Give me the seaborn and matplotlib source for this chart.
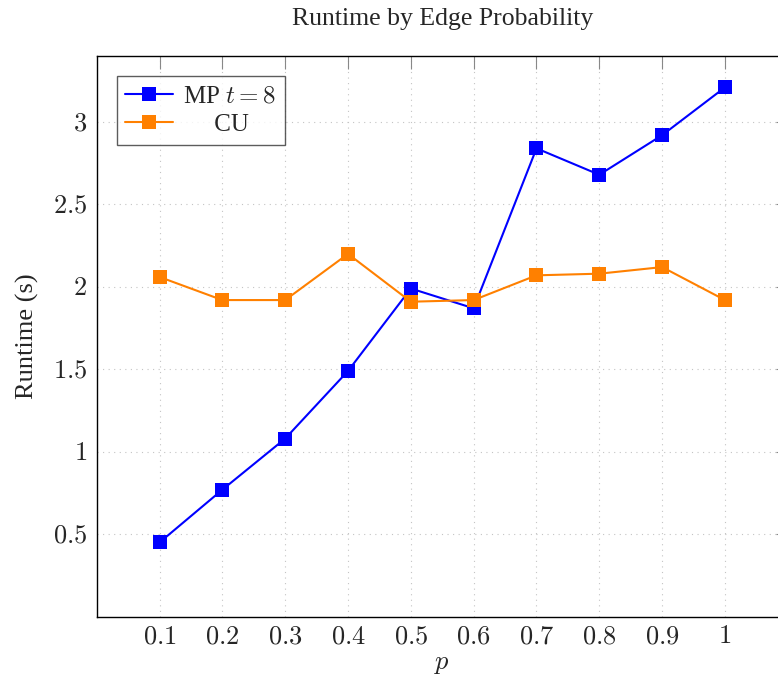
import numpy as np
import pandas as pd
import matplotlib
matplotlib.use("Agg")
import matplotlib.pyplot as plt
import seaborn as sns

# Data
p_values = [0.1, 0.2, 0.3, 0.4, 0.5, 0.6, 0.7, 0.8, 0.9, 1.0]
mp_runtime = [0.45, 0.77, 1.08, 1.49, 1.99, 1.87, 2.84, 2.68, 2.92, 3.21]
cu_runtime = [2.06, 1.92, 1.92, 2.20, 1.91, 1.92, 2.07, 2.08, 2.12, 1.92]
x_tick_labels = ["0.1", "0.2", "0.3", "0.4", "0.5", "0.6", "0.7", "0.8", "0.9", "1"]
y_ticks = [0.5, 1, 1.5, 2, 2.5, 3]
y_tick_labels = ["0.5", "1", "1.5", "2", "2.5", "3"]

sns.set_style("white")
plt.rcParams["font.family"] = ["Liberation Serif", "DejaVu Serif"]
plt.rcParams["mathtext.fontset"] = "cm"

df = pd.DataFrame({"p": p_values, "mp": mp_runtime, "cu": cu_runtime})

fig = plt.figure(figsize=(7.78, 6.79), dpi=100)
ax = fig.add_axes([0.1243, 0.0918, 0.8883, 0.8257])

sns.lineplot(data=df, x="p", y="mp", ax=ax, color="#0000ff", marker="s",
             markersize=10, markeredgewidth=0, linewidth=1.5, label="MP $t=8$")
sns.lineplot(data=df, x="p", y="cu", ax=ax, color="#ff8000", marker="s",
             markersize=10, markeredgewidth=0, linewidth=1.5, label="     CU")

ax.set_xlim(0, 1.1)
ax.set_ylim(0, 3.4)
ax.set_xticks(p_values)
ax.set_xticklabels(["$" + t + "$" for t in x_tick_labels])
ax.set_yticks(y_ticks)
ax.set_yticklabels(["$" + t + "$" for t in y_tick_labels])
ax.tick_params(axis="both", direction="in", length=9, width=0.8, color="#888888",
               labelsize=19, top=True, right=True, pad=7)

ax.grid(True, linestyle=(0, (1, 4)), color="#c4c4c4", linewidth=0.8)
for s in ax.spines.values():
    s.set_color("black")
    s.set_linewidth(1.0)

ax.set_xlabel("$p$", fontsize=19, labelpad=4)
ax.set_ylabel("Runtime (s)", fontsize=19, labelpad=10)
ax.set_title("Runtime by Edge Probability", fontsize=18.5, pad=22)

leg = ax.legend(loc="upper left", fontsize=18, frameon=True, fancybox=False,
                handlelength=1.9, borderpad=0.35, labelspacing=0.25,
                handletextpad=0.4, borderaxespad=0.8)
leg.get_frame().set_edgecolor("#333333")
leg.get_frame().set_linewidth(1.0)

plt.savefig("out.png", dpi=100)
plt.close()
